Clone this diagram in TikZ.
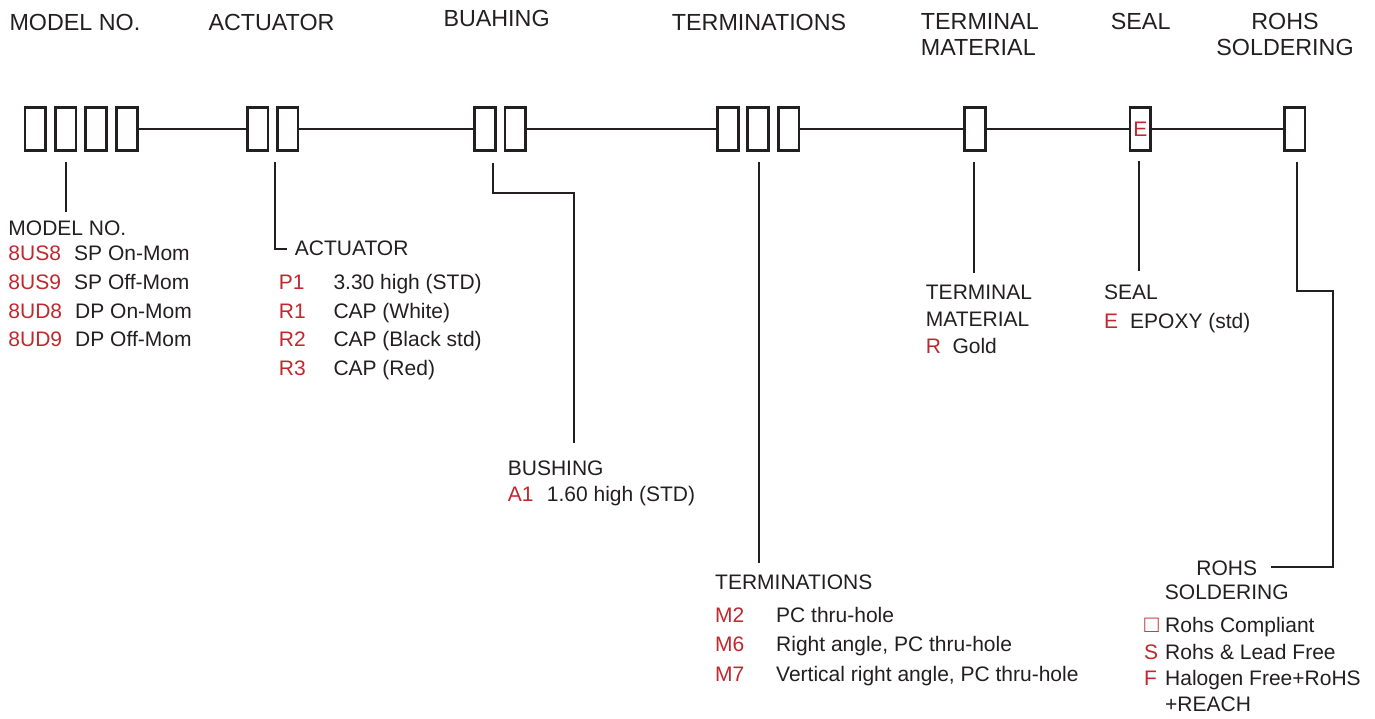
\documentclass[tikz,border=0pt]{standalone}
\usepackage{fontspec}
\setmainfont{Liberation Sans}
\definecolor{ink}{HTML}{231F20}
\definecolor{codered}{HTML}{C1272D}
\tikzset{
  slot/.style={draw=ink, line width=2.6pt, minimum width=20.5pt, minimum height=43.5pt, inner sep=0pt, outer sep=0pt},
  bus/.style={draw=ink, line width=2.6pt},
  lead/.style={draw=ink, line width=2pt},
  head/.style={anchor=base west, inner sep=0pt, text=ink, font=\fontsize{23.3pt}{28pt}\selectfont},
  lbl/.style={anchor=base west, inner sep=0pt, text=ink, font=\fontsize{21pt}{25pt}\selectfont},
  code/.style={lbl, text=codered},
}
\begin{document}
\begin{tikzpicture}[x=1pt,y=-1pt]
\useasboundingbox (0,0) rectangle (1375,718);
% header labels
\node[head] (hmodel) at (9.3,30.7) {MODEL NO.};
\node[head] (hact) at (208.3,30.7) {ACTUATOR};
\node[head] (hbus) at (443.3,26) {BUAHING};
\node[head] (hterm) at (671.7,30) {TERMINATIONS};
\node[head] (htm1) at (920.7,29.3) {TERMINAL};
\node[head] (htm2) at (920.7,55) {MATERIAL};
\node[head] (hseal) at (1110.7,29.3) {SEAL};
\node[head, anchor=base] (hr1) at (1285,29.3) {ROHS};
\node[head, anchor=base] (hr2) at (1285,55) {SOLDERING};
% slots
\node[slot] (m1) at (35.3,129) {};
\node[slot] (m2) at (65.9,129) {};
\node[slot] (m3) at (96,129) {};
\node[slot] (m4) at (127,129) {};
\node[slot] (a1) at (257.7,129) {};
\node[slot] (a2) at (287.7,129) {};
\node[slot] (b1) at (485,129) {};
\node[slot] (b2) at (515.3,129) {};
\node[slot] (t1) at (728,129) {};
\node[slot] (t2) at (758,129) {};
\node[slot] (t3) at (788.7,129) {};
\node[slot] (tm) at (975,129) {};
\node[slot, text=codered, font=\fontsize{21pt}{25pt}\selectfont] (se) at (1140.3,129) {E};
\node[slot] (ro) at (1294.7,129) {};
% bus line
\draw[bus] (m4.east) -- (a1.west);
\draw[bus] (a2.east) -- (b1.west);
\draw[bus] (b2.east) -- (t1.west);
\draw[bus] (t3.east) -- (tm.west);
\draw[bus] (tm.east) -- (se.west);
\draw[bus] (se.east) -- (ro.west);
% leader coordinates
\coordinate (pm0) at (65.7,162);
\coordinate (pm1) at (65.7,211.7);
\coordinate (pa0) at (275.3,162);
\coordinate (pa1) at (275.3,249);
\coordinate (pa2) at (287,249);
\coordinate (pb0) at (493,162.7);
\coordinate (pb1) at (574,193.3);
\coordinate (pb2) at (574,443.3);
\coordinate (pt0) at (759.3,162);
\coordinate (pt1) at (759.3,563);
\coordinate (ptm0) at (974.3,162);
\coordinate (ptm1) at (974.3,273.3);
\coordinate (ps0) at (1139.3,161);
\coordinate (ps1) at (1139.3,270.7);
\coordinate (pr0) at (1296.7,162);
\coordinate (pr1) at (1333,290.7);
\coordinate (pr2) at (1333,566.7);
\coordinate (pr3) at (1270.7,566.7);
\draw[lead] (pm0) -- (pm1);
\draw[lead] (pa0) -- (pa1) -- (pa2);
\draw[lead] (pb0) |- (pb1) -- (pb2);
\draw[lead] (pt0) -- (pt1);
\draw[lead] (ptm0) -- (ptm1);
\draw[lead] (ps0) -- (ps1);
\draw[lead] (pr0) |- (pr1) -- (pr2) -- (pr3);
% model no.
\node[lbl] (lm) at (8.3,235) {MODEL NO.};
\node[code] (c1) at (8.3,260) {8US8};
\node[lbl] (d1) at (74,260) {SP On-Mom};
\node[code] (c2) at (8.3,289.3) {8US9};
\node[lbl] (d2) at (74,289.3) {SP Off-Mom};
\node[code] (c3) at (8.3,318.3) {8UD8};
\node[lbl] (d3) at (75,318.3) {DP On-Mom};
\node[code] (c4) at (8.3,346.7) {8UD9};
\node[lbl] (d4) at (75,346.7) {DP Off-Mom};
% actuator
\node[lbl] (la) at (294.7,255.7) {ACTUATOR};
\node[code] (ca1) at (278.7,289) {P1};
\node[lbl] (da1) at (333.3,289) {3.30 high (STD)};
\node[code] (ca2) at (278.7,318.3) {R1};
\node[lbl] (da2) at (333.3,318.3) {CAP (White)};
\node[code] (ca3) at (278.7,346.7) {R2};
\node[lbl] (da3) at (333.3,346.7) {CAP (Black std)};
\node[code] (ca4) at (278.7,375.7) {R3};
\node[lbl] (da4) at (333.3,375.7) {CAP (Red)};
% bushing
\node[lbl] (lb) at (507.7,475) {BUSHING};
\node[code] (cb1) at (507.7,501.7) {A1};
\node[lbl] (db1) at (546.7,501.7) {1.60 high (STD)};
% terminations
\node[lbl] (lt) at (715,589.3) {TERMINATIONS};
\node[code] (ct1) at (715,622.7) {M2};
\node[lbl] (dt1) at (776,622.7) {PC thru-hole};
\node[code] (ct2) at (715,651.7) {M6};
\node[lbl] (dt2) at (776,651.7) {Right angle, PC thru-hole};
\node[code] (ct3) at (715,681.7) {M7};
\node[lbl] (dt3) at (776,681.7) {Vertical right angle, PC thru-hole};
% terminal material
\node[lbl] (ltm1) at (925.7,299) {TERMINAL};
\node[lbl] (ltm2) at (925.7,326) {MATERIAL};
\node[code] (ctm) at (925.7,353.3) {R};
\node[lbl] (dtm) at (952.3,353.3) {Gold};
% seal
\node[lbl] (ls) at (1104,299) {SEAL};
\node[code] (cs) at (1104,328.3) {E};
\node[lbl] (ds) at (1130,328.3) {EPOXY (std)};
% rohs
\node[lbl, anchor=base] (lr1) at (1226.8,575.7) {ROHS};
\node[lbl, anchor=base] (lr2) at (1226.8,599.3) {SOLDERING};
\node[code, anchor=base east, font=\fontsize{24pt}{28pt}\selectfont] (cr1) at (1159,632.3) {□};
\node[lbl] (dr1) at (1165,632.3) {Rohs Compliant};
\node[code] (cr2) at (1144,659) {S};
\node[lbl] (dr2) at (1165,659) {Rohs \& Lead Free};
\node[code] (cr3) at (1144,685.7) {F};
\node[lbl] (dr3) at (1165,685.7) {Halogen Free+RoHS};
\node[lbl] (dr4) at (1165,711.7) {+REACH};
\end{tikzpicture}
\end{document}
